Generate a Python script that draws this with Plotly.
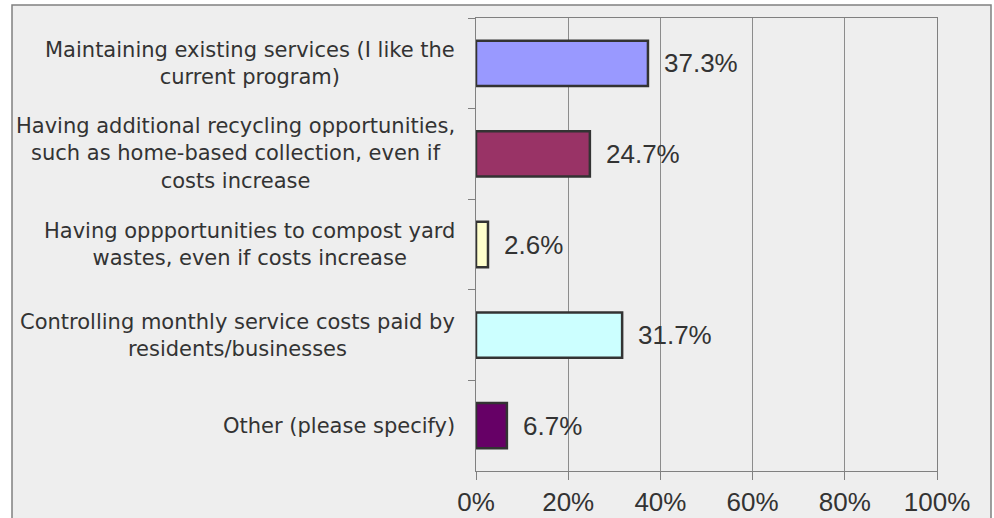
import plotly.graph_objects as go

categories = [
    "Maintaining existing services (I like the<br>current program)",
    "Having additional recycling opportunities,<br>such as home-based collection, even if<br>costs increase",
    "Having oppportunities to compost yard<br>wastes, even if costs increase",
    "Controlling monthly service costs paid by<br>residents/businesses",
    "Other (please specify)",
]
values = [37.3, 24.7, 2.6, 31.7, 6.7]
bar_colors = ["#9999FF", "#993366", "#FFFFCC", "#CCFFFF", "#660066"]
x_ticks = [0, 20, 40, 60, 80, 100]
x_tick_labels = ["0%", "20%", "40%", "60%", "80%", "100%"]

FONT = "Liberation Sans, Arial, sans-serif"
CAT_FONT = "DejaVu Sans, Liberation Sans, Arial, sans-serif"
TXT = "#333333"

fig = go.Figure(go.Bar(
    y=categories,
    x=values,
    orientation="h",
    width=0.5,
    marker=dict(color=bar_colors, line=dict(color="#333333", width=2.5)),
    hoverinfo="x+y",
))

W, H = 994, 518
L, R, T, B = 476, 57, 18, 47
pw, ph = W - L - R, H - T - B

def px_x(p):
    return (p - L) / pw

def px_y(p):
    return (H - B - p) / ph

fig.add_shape(type="rect", xref="paper", yref="paper",
              x0=px_x(12), x1=px_x(991), y0=px_y(540), y1=px_y(5),
              fillcolor="#eeeeee", line=dict(color="#808080", width=1.5), layer="below")

for c in categories:
    fig.add_annotation(x=px_x(457), y=c, xref="paper", yref="y", text=c,
                       showarrow=False, xanchor="right", align="center",
                       font=dict(family=CAT_FONT, size=21, color=TXT))

for c, v in zip(categories, values):
    fig.add_annotation(x=v, y=c, xref="x", yref="y", text=f"{v:.1f}%",
                       showarrow=False, xanchor="left", xshift=14,
                       font=dict(family=FONT, size=26, color=TXT))

fig.update_layout(
    width=W, height=H,
    margin=dict(l=L, r=R, t=T, b=B, pad=0, autoexpand=False),
    paper_bgcolor="white",
    plot_bgcolor="rgba(0,0,0,0)",
    showlegend=False,
    font=dict(family=FONT, color=TXT),
    xaxis=dict(range=[0, 100], tickvals=x_ticks, ticktext=x_tick_labels,
               showgrid=True, gridcolor="#8c8c8c", gridwidth=1,
               showline=True, linecolor="#808080", linewidth=1, mirror=True,
               ticks="outside", ticklen=8, tickcolor="#808080",
               automargin=False,
               tickfont=dict(family=FONT, size=26, color=TXT),
               zeroline=False, fixedrange=True),
    yaxis=dict(autorange="reversed", showticklabels=False, automargin=False,
               showgrid=False, showline=True, linecolor="#808080", linewidth=1, mirror=True,
               ticks="outside", ticklen=7, tickcolor="#808080", tickson="boundaries",
               fixedrange=True),
)

fig.write_html("out.html", config={"displayModeBar": False},
               post_script="document.body.style.margin='0';document.body.style.overflow='hidden';")
